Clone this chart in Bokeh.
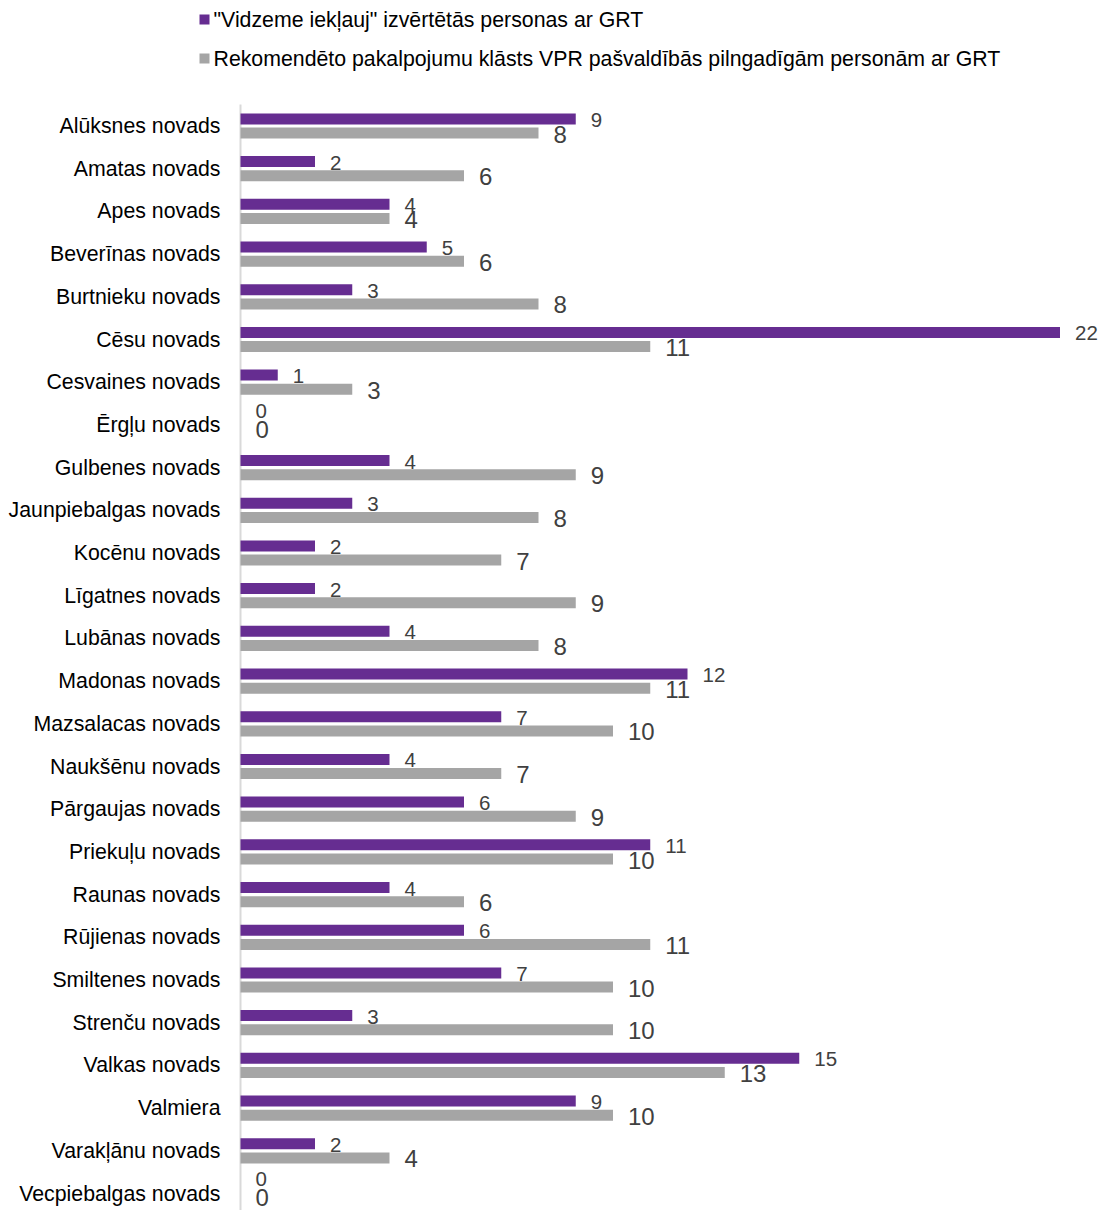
from bokeh.plotting import figure
from bokeh.models import ColumnDataSource, Range1d
from bokeh.transform import dodge
from bokeh.core.properties import value
from bokeh.embed import file_html
from bokeh.resources import INLINE

categories = ["Alūksnes novads", "Amatas novads", "Apes novads", "Beverīnas novads",
              "Burtnieku novads", "Cēsu novads", "Cesvaines novads", "Ērgļu novads",
              "Gulbenes novads", "Jaunpiebalgas novads", "Kocēnu novads", "Līgatnes novads",
              "Lubānas novads", "Madonas novads", "Mazsalacas novads", "Naukšēnu novads",
              "Pārgaujas novads", "Priekuļu novads", "Raunas novads", "Rūjienas novads",
              "Smiltenes novads", "Strenču novads", "Valkas novads", "Valmiera",
              "Varakļānu novads", "Vecpiebalgas novads"]
vidzeme = [9, 2, 4, 5, 3, 22, 1, 0, 4, 3, 2, 2, 4, 12, 7, 4, 6, 11, 4, 6, 7, 3, 15, 9, 2, 0]
rekomendeto = [8, 6, 4, 6, 8, 11, 3, 0, 9, 8, 7, 9, 8, 11, 10, 7, 9, 10, 6, 11, 10, 10, 13, 10, 4, 0]
series_names = ['"Vidzeme iekļauj" izvērtētās personas ar GRT',
                "Rekomendēto pakalpojumu klāsts VPR pašvaldībās pilngadīgām personām ar GRT"]
series_colors = ["#662D91", "#A5A5A5"]

FONT = "Liberation Sans"
W, H = 1103, 1210

# layout: pixel position of value 0 and of the first category, and pixel scales
X0_PX, PX_X = 240.0, 37.25
Y0_PX, PX_Y = 125.5, 42.7


def dx(px):
    return (px - X0_PX) / PX_X


def dy(px):
    return (px - Y0_PX) / PX_Y


idx = list(range(len(categories)))
src = ColumnDataSource(dict(
    y=idx, cat=categories,
    a=vidzeme, b=rekomendeto,
    al=[str(v) for v in vidzeme], bl=[str(v) for v in rekomendeto],
    # label nudges (px): zero-value labels are spread apart as in the original
    ay=[-7 if v == 0 else 1 for v in vidzeme],
    by=[-3 if v == 0 else 1 for v in rekomendeto],
))

p = figure(width=W, height=H, output_backend="svg", toolbar_location=None,
           x_range=Range1d(dx(0), dx(W)), y_range=Range1d(dy(H), dy(0)),
           x_axis_location=None, y_axis_location=None,
           min_border=0, min_border_left=0, min_border_right=0,
           min_border_top=0, min_border_bottom=0)
p.outline_line_color = None
p.xgrid.visible = False
p.ygrid.visible = False

# category axis line
p.segment(x0=[0], y0=[dy(104)], x1=[0], y1=[dy(H)], line_color="#D9D9D9", line_width=2)

off = 7.1 / PX_Y
bh = 11 / PX_Y
p.hbar(y=dodge("y", -off), right="a", left=0, height=bh, source=src,
       fill_color=series_colors[0], line_color=None)
p.hbar(y=dodge("y", off), right="b", left=0, height=bh, source=src,
       fill_color=series_colors[1], line_color=None)

# value labels
p.text(x="a", y=dodge("y", -off), text="al", source=src, x_offset=15, y_offset="ay",
       text_align="left", text_baseline="middle", text_font=value(FONT),
       text_font_size="20.5px", text_color="#404040")
p.text(x="b", y=dodge("y", off), text="bl", source=src, x_offset=15, y_offset="by",
       text_align="left", text_baseline="middle", text_font=value(FONT),
       text_font_size="24px", text_color="#404040")

# category labels
p.text(x=dx(220), y="y", text="cat", source=src, text_align="right",
       text_baseline="middle", text_font=value(FONT), text_font_size="21.3px",
       text_color="#000000")

# legend
leg_y = [dy(19), dy(58)]
p.rect(x=[dx(204)] * 2, y=leg_y, width=10, height=10, width_units="screen",
       height_units="screen", fill_color=series_colors, line_color=None)
p.text(x=[dx(213)] * 2, y=leg_y, text=series_names, text_align="left",
       text_baseline="middle", text_font=value(FONT), text_font_size="21.3px",
       text_color="#000000")

open("out.html", "w").write(file_html(p, INLINE))
